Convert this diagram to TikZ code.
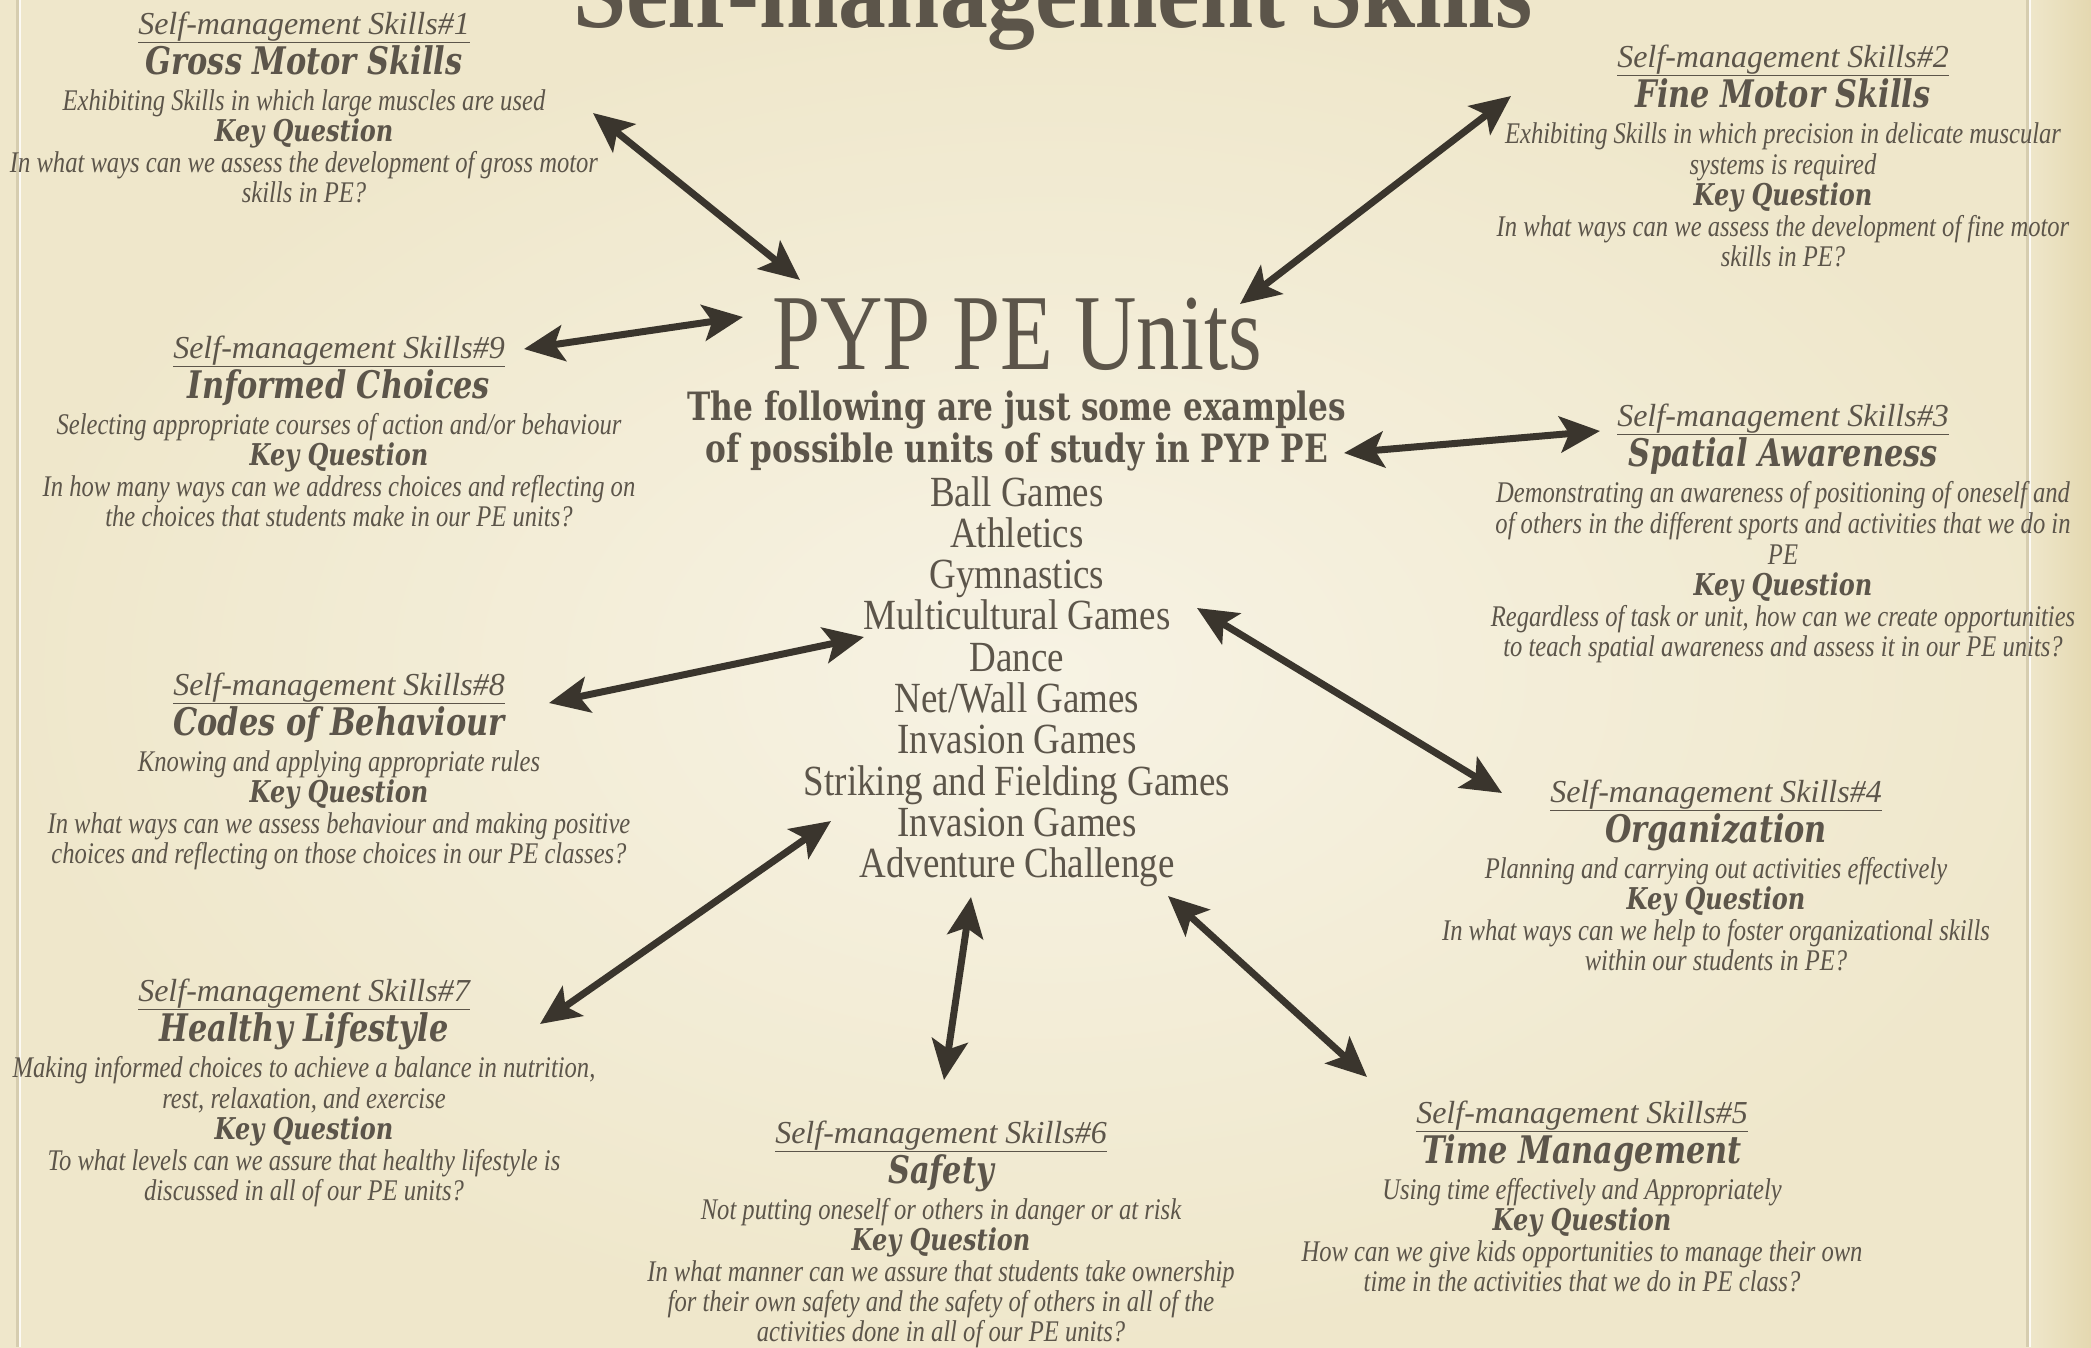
\documentclass[tikz,border=0pt]{standalone}
\usepackage{fontspec}
\setmainfont{Liberation Serif}
\newfontfamily\condit{Liberation Serif}[FakeStretch=0.82]
\newfontfamily\lstfam{Liberation Serif}[FakeStretch=0.86]
\newfontfamily\bigfam{Liberation Serif}[FakeStretch=0.8]
\newfontfamily\topfam{Liberation Serif}[FakeStretch=0.92]
\newfontfamily\clar{DejaVu Serif}[FakeStretch=0.8]
\usetikzlibrary{arrows.meta}
\definecolor{txt}{HTML}{5C554A}
\definecolor{arr}{HTML}{3A352D}
\definecolor{bgin}{HTML}{F7F3E4}
\definecolor{bgout}{HTML}{EFE7CB}
\definecolor{strip}{HTML}{E4D8B0}
\definecolor{edgeline}{HTML}{D6CDB0}
\tikzset{
  ln/.style={inner sep=0pt, anchor=base, text=txt},
  hd/.style={ln, font=\fontsize{32}{36}\selectfont\itshape},
  sk/.style={ln, font=\clar\fontsize{38}{42}\selectfont\bfseries\itshape},
  dsc/.style={ln, font=\condit\fontsize{30}{32}\selectfont\itshape},
  kq/.style={ln, font=\clar\fontsize{30}{32}\selectfont\bfseries\itshape},
  bigt/.style={ln, font=\bigfam\fontsize{108}{112}\selectfont},
  subt/.style={ln, font=\clar\fontsize{39}{42}\selectfont\bfseries},
  lst/.style={ln, font=\lstfam\fontsize{43}{46}\selectfont},
  arrw/.style={draw=arr, line width=7pt,
    {Stealth[length=40pt,width=36pt,inset=9pt]}-{Stealth[length=40pt,width=36pt,inset=9pt]}}
}
\begin{document}
\begin{tikzpicture}[x=1pt,y=-1pt]
\useasboundingbox (0,0) rectangle (2091,1347);
% background
\fill[bgout] (0,0) rectangle (2091,1347);
\shade[inner color=bgin, outer color=bgout] (0,0) rectangle (2091,1347);
\shade[left color=bgout, right color=strip] (2028,0) rectangle (2091,1347);
\draw[edgeline, line width=3pt] (17,0) -- (17,1347);
\draw[white!60!bgin, line width=2pt] (20,0) -- (20,1347);
\draw[edgeline, line width=3pt] (2027,0) -- (2027,1347);
\draw[white!60!bgin, line width=2pt] (2030,0) -- (2030,1347);

% title
\node[ln, font=\topfam\bfseries\fontsize{104}{110}\selectfont] (title) at (1053,27) {Self-management Skills};

% centre
\node[bigt] (pyp) at (1017,369) {PYP PE Units};
\node[subt] (sub1) at (1017,420) {The following are just some examples};
\node[subt] (sub2) at (1017,462) {of possible units of study in PYP PE};
\foreach \t [count=\i from 0] in {Ball Games, Athletics, Gymnastics, Multicultural Games, Dance, Net/Wall Games, Invasion Games, Striking and Fielding Games, Invasion Games, Adventure Challenge}
  \node[lst] (u\i) at (1017,{506+41.3*\i}) {\t};

% block 1
\node[hd] (b1h) at (304,34) {\underline{Self-management Skills\#1}};
\node[sk] (b1t) at ([yshift=-40pt]b1h.base) {Gross Motor Skills};
\node[dsc] (b1d) at ([yshift=-36pt]b1t.base) {Exhibiting Skills in which large muscles are used};
\node[kq] (b1k) at ([yshift=-31pt]b1d.base) {Key Question};
\node[dsc] (b1q1) at ([yshift=-31pt]b1k.base) {In what ways can we assess the development of gross motor};
\node[dsc] (b1q2) at ([yshift=-30pt]b1q1.base) {skills in PE?};

% block 2
\node[hd] (b2h) at (1783,67) {\underline{Self-management Skills\#2}};
\node[sk] (b2t) at ([yshift=-40pt]b2h.base) {Fine Motor Skills};
\node[dsc] (b2d1) at ([yshift=-36pt]b2t.base) {Exhibiting Skills in which precision in delicate muscular};
\node[dsc] (b2d2) at ([yshift=-31pt]b2d1.base) {systems is required};
\node[kq] (b2k) at ([yshift=-31pt]b2d2.base) {Key Question};
\node[dsc] (b2q1) at ([yshift=-31pt]b2k.base) {In what ways can we assess the development of fine motor};
\node[dsc] (b2q2) at ([yshift=-30pt]b2q1.base) {skills in PE?};

% block 9
\node[hd] (b9h) at (339,358) {\underline{Self-management Skills\#9}};
\node[sk] (b9t) at ([yshift=-40pt]b9h.base) {Informed Choices};
\node[dsc] (b9d) at ([yshift=-36pt]b9t.base) {Selecting appropriate courses of action and/or behaviour};
\node[kq] (b9k) at ([yshift=-31pt]b9d.base) {Key Question};
\node[dsc] (b9q1) at ([yshift=-31pt]b9k.base) {In how many ways can we address choices and reflecting on};
\node[dsc] (b9q2) at ([yshift=-30pt]b9q1.base) {the choices that students make in our PE units?};

% block 3
\node[hd] (b3h) at (1783,426) {\underline{Self-management Skills\#3}};
\node[sk] (b3t) at ([yshift=-40pt]b3h.base) {Spatial Awareness};
\node[dsc] (b3d1) at ([yshift=-36pt]b3t.base) {Demonstrating an awareness of positioning of oneself and};
\node[dsc] (b3d2) at ([yshift=-31pt]b3d1.base) {of others in the different sports and activities that we do in};
\node[dsc] (b3d3) at ([yshift=-31pt]b3d2.base) {PE};
\node[kq] (b3k) at ([yshift=-31pt]b3d3.base) {Key Question};
\node[dsc] (b3q1) at ([yshift=-31pt]b3k.base) {Regardless of task or unit, how can we create opportunities};
\node[dsc] (b3q2) at ([yshift=-30pt]b3q1.base) {to teach spatial awareness and assess it in our PE units?};

% block 8
\node[hd] (b8h) at (339,695) {\underline{Self-management Skills\#8}};
\node[sk] (b8t) at ([yshift=-40pt]b8h.base) {Codes of Behaviour};
\node[dsc] (b8d) at ([yshift=-36pt]b8t.base) {Knowing and applying appropriate rules};
\node[kq] (b8k) at ([yshift=-31pt]b8d.base) {Key Question};
\node[dsc] (b8q1) at ([yshift=-31pt]b8k.base) {In what ways can we assess behaviour and making positive};
\node[dsc] (b8q2) at ([yshift=-30pt]b8q1.base) {choices and reflecting on those choices in our PE classes?};

% block 4
\node[hd] (b4h) at (1716,802) {\underline{Self-management Skills\#4}};
\node[sk] (b4t) at ([yshift=-40pt]b4h.base) {Organization};
\node[dsc] (b4d) at ([yshift=-36pt]b4t.base) {Planning and carrying out activities effectively};
\node[kq] (b4k) at ([yshift=-31pt]b4d.base) {Key Question};
\node[dsc] (b4q1) at ([yshift=-31pt]b4k.base) {In what ways can we help to foster organizational skills};
\node[dsc] (b4q2) at ([yshift=-30pt]b4q1.base) {within our students in PE?};

% block 7
\node[hd] (b7h) at (304,1001) {\underline{Self-management Skills\#7}};
\node[sk] (b7t) at ([yshift=-40pt]b7h.base) {Healthy Lifestyle};
\node[dsc] (b7d1) at ([yshift=-36pt]b7t.base) {Making informed choices to achieve a balance in nutrition,};
\node[dsc] (b7d2) at ([yshift=-31pt]b7d1.base) {rest, relaxation, and exercise};
\node[kq] (b7k) at ([yshift=-31pt]b7d2.base) {Key Question};
\node[dsc] (b7q1) at ([yshift=-31pt]b7k.base) {To what levels can we assure that healthy lifestyle is};
\node[dsc] (b7q2) at ([yshift=-30pt]b7q1.base) {discussed in all of our PE units?};

% block 5
\node[hd] (b5h) at (1582,1123) {\underline{Self-management Skills\#5}};
\node[sk] (b5t) at ([yshift=-40pt]b5h.base) {Time Management};
\node[dsc] (b5d) at ([yshift=-36pt]b5t.base) {Using time effectively and Appropriately};
\node[kq] (b5k) at ([yshift=-31pt]b5d.base) {Key Question};
\node[dsc] (b5q1) at ([yshift=-31pt]b5k.base) {How can we give kids opportunities to manage their own};
\node[dsc] (b5q2) at ([yshift=-30pt]b5q1.base) {time in the activities that we do in PE class?};

% block 6
\node[hd] (b6h) at (941,1143) {\underline{Self-management Skills\#6}};
\node[sk] (b6t) at ([yshift=-40pt]b6h.base) {Safety};
\node[dsc] (b6d) at ([yshift=-36pt]b6t.base) {Not putting oneself or others in danger or at risk};
\node[kq] (b6k) at ([yshift=-31pt]b6d.base) {Key Question};
\node[dsc] (b6q1) at ([yshift=-31pt]b6k.base) {In what manner can we assure that students take ownership};
\node[dsc] (b6q2) at ([yshift=-30pt]b6q1.base) {for their own safety and the safety of others in all of the};
\node[dsc] (b6q3) at ([yshift=-30pt]b6q2.base) {activities done in all of our PE units?};

% arrow ends
\coordinate (a1s) at (593,113);  \coordinate (a1e) at (800,280);
\coordinate (a2s) at (1511,96);  \coordinate (a2e) at (1240,304);
\coordinate (a9s) at (524,349);  \coordinate (a9e) at (743,317);
\coordinate (a3s) at (1600,431); \coordinate (a3e) at (1344,453);
\coordinate (a8s) at (549,703);  \coordinate (a8e) at (864,637);
\coordinate (a4s) at (1502,793); \coordinate (a4e) at (1197,608);
\coordinate (a7s) at (540,1024); \coordinate (a7e) at (831,821);
\coordinate (a6s) at (944,1080); \coordinate (a6e) at (971,897);
\coordinate (a5s) at (1367,1077);\coordinate (a5e) at (1168,896);
\foreach \k in {1,2,9,3,8,4,7,6,5}
  \draw[arrw] (a\k s) -- (a\k e);
\end{tikzpicture}
\end{document}
